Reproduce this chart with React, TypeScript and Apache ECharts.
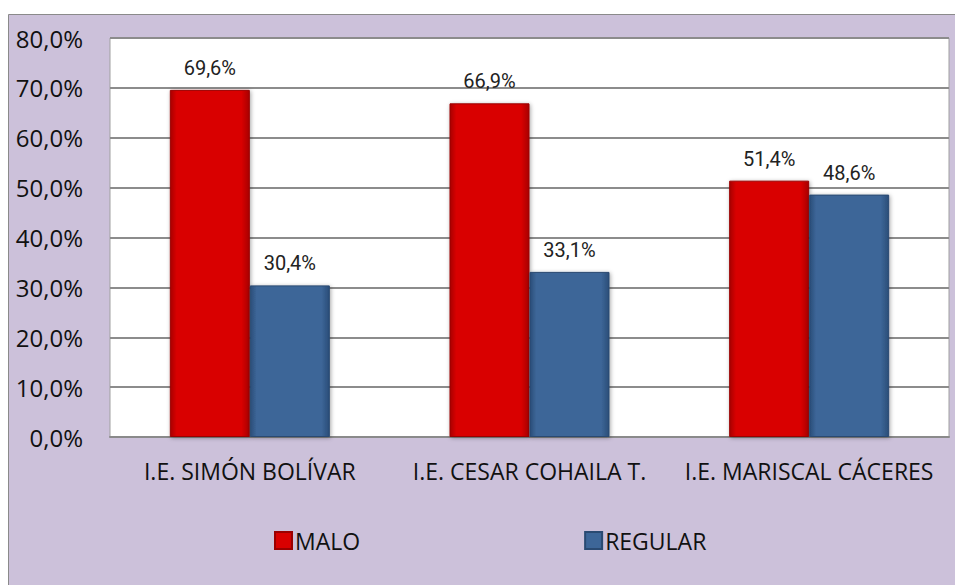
import React, { useEffect, useRef } from "react";
import * as echarts from "echarts";

const categories = ["I.E. SIMÓN BOLÍVAR", "I.E. CESAR COHAILA T.", "I.E. MARISCAL CÁCERES"];
const seriesNames = ["MALO", "REGULAR"];
const maloValues = [69.6, 66.9, 51.4];
const regularValues = [30.4, 33.1, 48.6];

const fmt = (v: number) => v.toFixed(1).replace(".", ",") + "%";

export default function App() {
  const ref = useRef<HTMLDivElement>(null);
  useEffect(() => {
    const chart = echarts.init(ref.current!, null, { renderer: "svg" });
    const barGrad = (mid: string, dark: string) => ({
      type: "linear", x: 0, y: 0, x2: 1, y2: 0,
      colorStops: [
        { offset: 0, color: dark },
        { offset: 0.08, color: mid },
        { offset: 0.9, color: mid },
        { offset: 1, color: dark },
      ],
    });
    const labelStyle = {
      show: true,
      position: "top" as const,
      distance: 12,
      fontFamily: "Roboto, sans-serif",
      fontSize: 20,
      color: "#222",
      formatter: (p: any) => fmt(p.value),
    };
    chart.setOption({
      animation: false,
      backgroundColor: "transparent",
      graphic: [
        {
          type: "rect",
          z: -10,
          shape: { x: 8.5, y: 14.5, width: 960, height: 600 },
          style: { fill: "#CCC1DA", stroke: "#8a8a8a", lineWidth: 1 },
        },
      ],
      grid: {
        left: 110, right: 6, top: 38, bottom: 148,
        show: true, backgroundColor: "#ffffff", borderColor: "#a0a0a0", borderWidth: 1,
      },
      legend: {
        data: seriesNames,
        left: 269, top: 524,
        itemWidth: 17, itemHeight: 17, itemGap: 224,
        icon: "rect",
        textStyle: { fontFamily: "Open Sans, sans-serif", fontSize: 23, color: "#111", padding: [0, 0, 0, -2] },
      },
      xAxis: {
        type: "category",
        data: categories,
        axisLine: { show: true, lineStyle: { color: "#8a8a8a", width: 2 } },
        axisTick: { show: false },
        axisLabel: { fontFamily: "Open Sans, sans-serif", fontSize: 23, color: "#111", margin: 22, interval: 0 },
      },
      yAxis: {
        type: "value",
        min: 0, max: 80, interval: 10,
        axisLine: { show: false },
        axisTick: { show: false },
        splitLine: { lineStyle: { color: "#8c8c8c", width: 2 } },
        axisLabel: {
          fontFamily: "Open Sans, sans-serif", fontSize: 24, color: "#111", margin: 27,
          formatter: (v: number) => fmt(v),
        },
      },
      series: [
        {
          name: seriesNames[0], type: "bar", data: maloValues,
          barWidth: 80, barGap: "0%",
          itemStyle: {
            color: barGrad("#D90000", "#a80000"),
            borderColor: "#9a0000", borderWidth: 1,
            shadowColor: "rgba(0,0,0,0.35)", shadowBlur: 4, shadowOffsetX: 1, shadowOffsetY: 1,
          },
          label: labelStyle,
        },
        {
          name: seriesNames[1], type: "bar", data: regularValues,
          barWidth: 80, barGap: "0%",
          itemStyle: {
            color: barGrad("#3D6698", "#2a4d78"),
            borderColor: "#2a4a72", borderWidth: 1,
            shadowColor: "rgba(0,0,0,0.35)", shadowBlur: 4, shadowOffsetX: 1, shadowOffsetY: 1,
          },
          label: labelStyle,
        },
      ],
    });
    return () => chart.dispose();
  }, []);
  return (
    <div
      ref={ref}
      style={{ position: "fixed", left: 0, top: 0, width: 955, height: 585, background: "#ffffff" }}
    />
  );
}
